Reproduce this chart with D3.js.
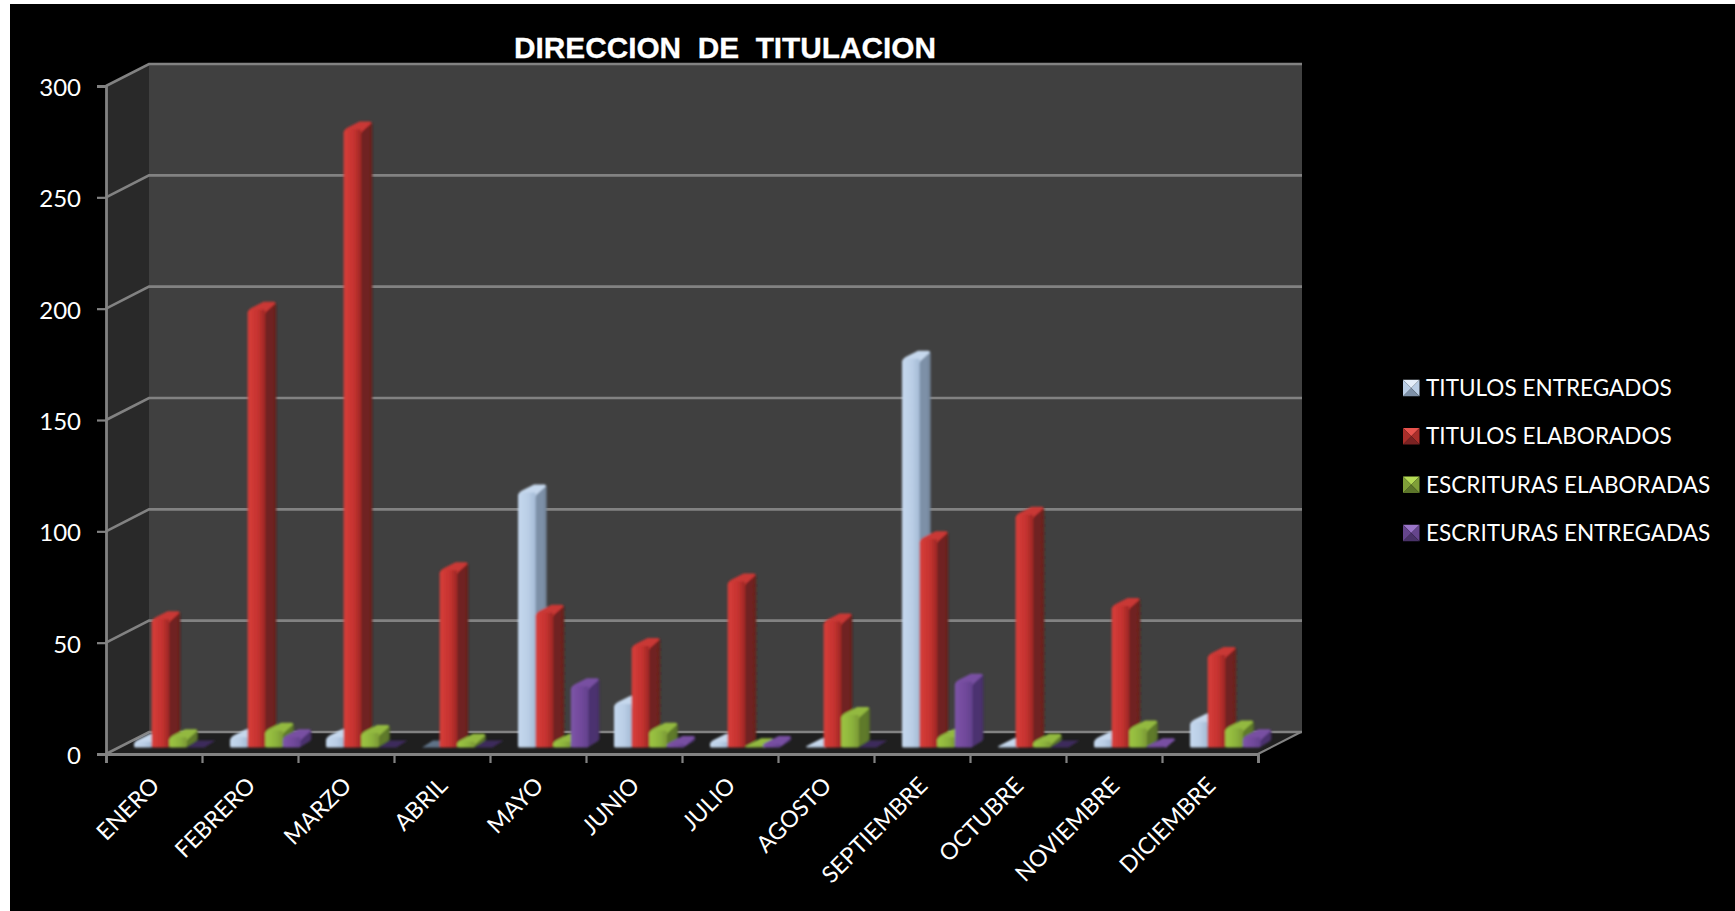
<!DOCTYPE html>
<html><head><meta charset="utf-8">
<script src="https://cdn.jsdelivr.net/npm/d3@7"></script>
<style>html,body{margin:0;padding:0;background:#fff;overflow:hidden}svg{display:block}</style>
</head><body><svg id="c" width="1735" height="911"></svg>
<script>
const categories=["ENERO","FEBRERO","MARZO","ABRIL","MAYO","JUNIO","JULIO","AGOSTO","SEPTIEMBRE","OCTUBRE","NOVIEMBRE","DICIEMBRE"];
const titulosEntregados=[3,5,5,0,115,20,3,1,175,1,4,12];
const titulosElaborados=[58,197,278,80,61,46,75,57,94,105,64,42];
const escriturasElaboradas=[5,8,7,3,3,8,1,15,5,3,9,9];
const escriturasEntregadas=[0,5,0,0,28,2,2,0,30,0,1,5];
const seriesNames=["TITULOS ENTREGADOS","TITULOS ELABORADOS","ESCRITURAS ELABORADAS","ESCRITURAS ENTREGADAS"];
const seriesValues=[titulosEntregados,titulosElaborados,escriturasElaboradas,escriturasEntregadas];
const yTicks=[0,50,100,150,200,250,300];
const palette=[
 {front:"#b9cde5",light:"#c3d6ec",dark:"#a9bfd9",side:"#7d90a7",top:"#c6d8ed",flat:"#5f7287",sw:"#b9cde5",swTop:"#e4eefa",swBot:"#7d90a7"},
 {front:"#c5322f",light:"#d33c38",dark:"#a52a28",side:"#702220",top:"#c93835",flat:"#702220",sw:"#a92f2c",swTop:"#e8524d",swBot:"#7a2422"},
 {front:"#8cb33c",light:"#9ac242",dark:"#7f9f38",side:"#5f7a2b",top:"#93b93f",flat:"#5f7a2b",sw:"#7f9f38",swTop:"#b5dc55",swBot:"#5c752b"},
 {front:"#71499b",light:"#7a52a5",dark:"#664390",side:"#4c3370",top:"#7850a2",flat:"#3d2a5c",sw:"#65458c",swTop:"#9a74c8",swBot:"#4a3268"}
];
const FONT="Lato, 'Open Sans', sans-serif";
const svg=d3.select("#c");
const X0=106,X1=1258,DX=43,DY=-22,YB=754,YT=86;
const BD={dx:11,dy:-7,base:-6.5,bw:17.6};
const x=d3.scaleBand().domain(categories).range([X0,X1]);
const y=d3.scaleLinear().domain([0,300]).range([YB,YT]);
const sub=d3.scaleBand().domain(d3.range(4)).range([-20,50.4]);

svg.append("rect").attr("x",10).attr("y",4).attr("width",1725).attr("height",907).attr("fill","#000");

const defs=svg.append("defs");
palette.forEach((p,i)=>{
  const g=defs.append("linearGradient").attr("id","f"+i);
  [[0,p.light],[.15,p.light],[.6,p.front],[.9,p.dark],[1,p.dark]].forEach(s=>g.append("stop").attr("offset",s[0]).attr("stop-color",s[1]));
  const h=defs.append("linearGradient").attr("id","s"+i);
  [[0,p.side],[.7,p.side],[1,d3.color(p.side).darker(.3)]].forEach(s=>h.append("stop").attr("offset",s[0]).attr("stop-color",s[1]));
});
const fl=defs.append("filter").attr("id","soft");fl.append("feGaussianBlur").attr("stdDeviation",.8);
const ft=defs.append("filter").attr("id","softT");ft.append("feGaussianBlur").attr("stdDeviation",.35);

// walls & floor
const yBack=v=>y(v)+DY;
const line=d3.line();
const poly=(pts,fill)=>svg.append("path").attr("d",line(pts)+"Z").attr("fill",fill);
poly([[X0,y(0)],[X0+DX,yBack(0)],[X0+DX,yBack(300)],[X0,y(300)]],"#292929");
poly([[X0+DX,yBack(0)],[X1+DX+1,yBack(0)],[X1+DX+1,yBack(300)],[X0+DX,yBack(300)]],"#404040");
poly([[X0,y(0)],[X1,y(0)],[X1+DX,yBack(0)],[X0+DX,yBack(0)]],"#1f1f1f");

const gridC="#828282";
const grid=svg.append("g").attr("filter","url(#softT)");
grid.selectAll("path").data(yTicks).join("path")
  .attr("d",v=>line([[X0,y(v)],[X0+DX,yBack(v)],[X1+DX+1,yBack(v)]]))
  .attr("fill","none").attr("stroke",gridC).attr("stroke-width",2.6);
grid.append("path").attr("d",line([[X1,y(0)],[X1+DX,yBack(0)]])).attr("stroke",gridC).attr("stroke-width",2);

// axes
const yAxis=svg.append("g").attr("transform",`translate(${X0},0)`)
  .call(d3.axisLeft(y).tickValues(yTicks).tickSize(9).tickPadding(16));
const xTickVals=categories.map(c=>x(c)).concat([X1]);
const xAxisScale=d3.scaleLinear().domain([X0,X1]).range([X0,X1]);
const xAxis=svg.append("g").attr("transform",`translate(0,${YB})`)
  .call(d3.axisBottom(xAxisScale).tickValues(xTickVals).tickSize(9).tickFormat(""));
[yAxis,xAxis].forEach(a=>{a.selectAll("path,line").attr("stroke",gridC).attr("stroke-width",2.2);a.select(".domain").attr("stroke-width",2.8)});
yAxis.selectAll("text").attr("fill","#fff").attr("font-family",FONT).attr("font-size",24).attr("dy","0.4em");

svg.append("g").selectAll("text").data(categories).join("text")
  .attr("transform",d=>`translate(${x(d)+x.bandwidth()/2+7},787) rotate(-45)`)
  .attr("text-anchor","end").attr("fill","#fff").attr("font-family",FONT).attr("font-size",23.2).text(d=>d);

// bars
const bars=svg.append("g").attr("filter","url(#soft)");
categories.forEach((c,ci)=>{
  const cx=x(c)+x.bandwidth()/2;
  seriesValues.forEach((vals,si)=>{
    const v=vals[ci],p=palette[si];
    const l=cx+sub(si),w=BD.bw,b=y(0)+BD.base,t=b-(y(0)-y(v));
    const g=bars.append("g");
    if(v===0){
      g.append("path").attr("d",line([[l,b],[l+w,b],[l+w+BD.dx,b+BD.dy],[l+BD.dx,b+BD.dy]])+"Z").attr("fill",p.flat);
      return;
    }
    const r=Math.min(5,(b-t)*0.6), dx=BD.dx, dy=BD.dy, rt=l+w;
    // side face
    g.append("path").attr("d",`M${rt-1},${b}L${rt+dx-2},${b+dy+1}Q${rt+dx},${b+dy} ${rt+dx},${b+dy-2}L${rt+dx},${t+dy+3}Q${rt+dx},${t+dy} ${rt+dx-3},${t+dy}L${rt-2},${t+1}Z`).attr("fill",`url(#s${si})`);
    // rounded top: a shallow rise from the front-left corner to the back edge
    g.append("path").attr("d",`M${l},${t+r}Q${l},${t+1} ${l+4},${t-1}L${l+dx+5},${t+dy}L${rt+dx-3},${t+dy}Q${rt+dx},${t+dy} ${rt+dx-1},${t+dy+2}L${rt+1},${t+3}L${rt},${t+r}Z`).attr("fill",p.top);
    // front face
    g.append("path").attr("d",`M${l},${b-1.5}Q${l},${b} ${l+2},${b}L${rt-1.5},${b}Q${rt},${b} ${rt},${b-1.5}L${rt},${t+1.5}L${rt-1},${t+1}L${l+r},${t+1}Q${l},${t+1} ${l},${t+r}Z`).attr("fill",`url(#f${si})`);
  });
});

// title
svg.append("text").attr("x",725).attr("y",58).attr("text-anchor","middle").attr("fill","#fff")
  .attr("stroke","#fff").attr("stroke-width",.3)
  .attr("font-family","'Liberation Sans',Arial,sans-serif").attr("font-weight","bold").attr("font-size",29.8)
  .style("white-space","pre").text("DIRECCION  DE  TITULACION");

// legend
const legendY=d3.scalePoint().domain(seriesNames).range([388,533]);
const leg=svg.append("g").selectAll("g").data(seriesNames).join("g")
  .attr("transform",d=>`translate(1403,${legendY(d)})`);
const S=16.5,M=S/2;
leg.each(function(d,i){
  const g=d3.select(this).append("g").attr("filter","url(#softT)"),p=palette[i];
  const sq=[[0,-M],[S,-M],[S,M],[0,M]],c=[M,0];
  [[0,1,p.swTop],[1,2,p.sw],[2,3,p.swBot],[3,0,p.sw]].forEach(([a,b,col])=>{
    g.append("path").attr("d",line([sq[a],sq[b],c])+"Z").attr("fill",col);
  });
});
leg.append("text").attr("x",23).attr("dy","0.36em").attr("fill","#fff").attr("font-family",FONT).attr("font-size",22.55).text(d=>d);
</script></body></html>
